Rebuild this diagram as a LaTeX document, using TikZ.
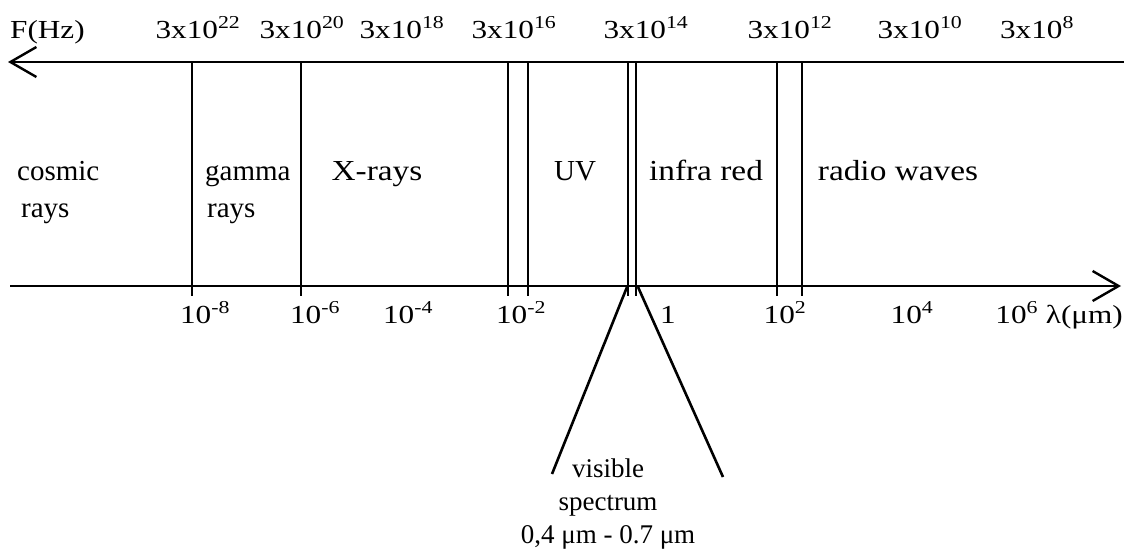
\documentclass[tikz,border=0pt]{standalone}
\usepackage{fontspec}
\setmainfont{Liberation Serif}
\newfontfamily\axisfont{Liberation Serif}[FakeStretch=1.2]
\newfontfamily\bandfont{Liberation Serif}[FakeStretch=1.15]
\usetikzlibrary{arrows.meta}
\begin{document}
\begin{tikzpicture}[x=1pt,y=-1pt,
  axisline/.style={line width=2.4pt},
  bandline/.style={line width=2.6pt},
  lbl/.style={font=\axisfont\fontsize{26}{30}\selectfont, inner sep=0pt, anchor=base},
  band/.style={font=\fontsize{29}{37}\selectfont, inner sep=0pt, anchor=base, align=left},
  wideband/.style={band, font=\bandfont\fontsize{29}{37}\selectfont},
  vis/.style={font=\fontsize{27}{33}\selectfont, inner sep=0pt, anchor=base, align=center},
  barb/.style={-{Straight Barb[length=26pt,width=30pt,line width=2.4pt]}}]
\useasboundingbox (0,0) rectangle (1124,557);
% axes
\coordinate (topR) at (1124,62);
\coordinate (topL) at (8,62);
\coordinate (botL) at (10,286);
\coordinate (botR) at (1121,286);
\draw[axisline,barb] (topR) -- (topL);
\draw[axisline,barb] (botL) -- (botR);
% boundaries
\foreach \n/\x in {a/192,b/301,c/508,d/528,e/628,f/636,g/777,h/802}{
  \coordinate (\n t) at (\x,62);
  \coordinate (\n b) at (\x,296);
  \draw[bandline] (\n t) -- (\n b);
}
% visible spectrum fan
\coordinate (vl0) at (627,287);
\coordinate (vl1) at (552,474);
\coordinate (vr0) at (638,287);
\coordinate (vr1) at (723,477);
\draw[bandline] (vl0) -- (vl1);
\draw[bandline] (vr0) -- (vr1);
% frequency labels
\node[lbl, anchor=base west] (fhz) at (10,38) {F(Hz)};
\node[lbl] (f22) at (198,38) {3x10\textsuperscript{22}};
\node[lbl] (f20) at (302,38) {3x10\textsuperscript{20}};
\node[lbl] (f18) at (402,38) {3x10\textsuperscript{18}};
\node[lbl] (f16) at (514,38) {3x10\textsuperscript{16}};
\node[lbl] (f14) at (646,38) {3x10\textsuperscript{14}};
\node[lbl] (f12) at (790,38) {3x10\textsuperscript{12}};
\node[lbl] (f10) at (920,38) {3x10\textsuperscript{10}};
\node[lbl] (f8) at (1037,38) {3x10\textsuperscript{8}};
% wavelength labels
\node[lbl] (w8) at (205,323) {10\textsuperscript{-8}};
\node[lbl] (w6) at (315,323) {10\textsuperscript{-6}};
\node[lbl] (w4) at (408,323) {10\textsuperscript{-4}};
\node[lbl] (w2) at (521,323) {10\textsuperscript{-2}};
\node[lbl] (w0) at (668,323) {1};
\node[lbl] (wp2) at (785,323) {10\textsuperscript{2}};
\node[lbl] (wp4) at (912,323) {10\textsuperscript{4}};
\node[lbl, anchor=base east] (wp6) at (1123,323) {10\textsuperscript{6} λ(μm)};
% band labels
\node[band, anchor=base west] (cosmic) at (17,217) {cosmic\\\hspace*{4pt}rays};
\node[band, anchor=base west] (gamma) at (205,217) {gamma\\\hspace*{2pt}rays};
\node[wideband] (xray) at (377,180) {X-rays};
\node[band] (uv) at (575,180) {UV};
\node[wideband] (ir) at (706,180) {infra red};
\node[wideband] (radio) at (898,180) {radio waves};
% visible text
\node[vis] (visible) at (608,543) {visible\\spectrum\\0,4 μm - 0.7 μm};
\end{tikzpicture}
\end{document}
